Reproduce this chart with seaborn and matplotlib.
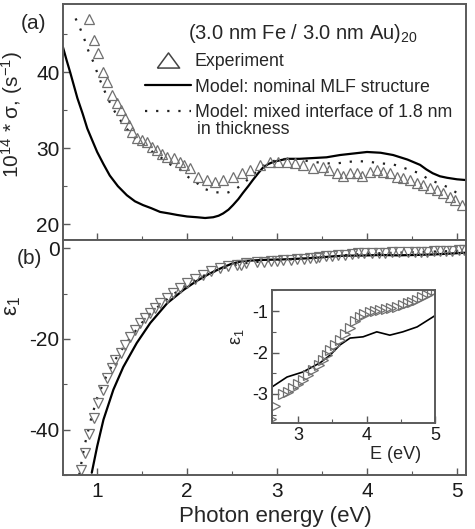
import matplotlib
matplotlib.use('Agg')
import matplotlib.pyplot as plt
import seaborn as sns
from matplotlib.lines import Line2D
from matplotlib.ticker import MultipleLocator

# panel (a): optical conductivity 10^14 * sigma (s^-1) vs photon energy (eV)
sig_exp_e = [0.91, 0.96, 1.01, 1.06, 1.11, 1.17, 1.22, 1.26, 1.31, 1.35, 1.39, 1.44, 1.50, 1.55,
             1.61, 1.67, 1.72, 1.78, 1.85, 1.92, 1.97, 2.03, 2.12, 2.22, 2.31, 2.40, 2.51, 2.61,
             2.70, 2.81, 2.92, 3.01, 3.11, 3.20, 3.29, 3.40, 3.51, 3.58, 3.67, 3.73, 3.81, 3.89,
             3.94, 4.03, 4.11, 4.18, 4.26, 4.33, 4.40, 4.48, 4.56, 4.62, 4.70, 4.78, 4.84, 4.92,
             4.98, 5.06]
sig_exp = [47.0, 44.3, 42.5, 40.0, 38.7, 37.0, 35.9, 35.0, 34.0, 33.0, 32.1, 31.4, 31.1, 30.8,
           30.1, 29.7, 29.3, 28.8, 28.7, 28.2, 27.8, 27.4, 26.2, 25.8, 25.5, 25.8, 26.2, 26.7,
           27.1, 27.8, 28.2, 28.2, 28.2, 28.0, 27.8, 27.4, 27.5, 27.1, 26.7, 26.4, 26.7, 26.7,
           26.4, 26.8, 27.1, 26.8, 26.7, 26.2, 26.1, 25.8, 25.4, 25.1, 24.7, 24.5, 24.1, 23.6,
           23.2, 22.5]

sig_nom_e = [0.62, 0.66, 0.70, 0.74, 0.78, 0.84, 0.89, 0.95, 1.00, 1.07, 1.14, 1.23, 1.33, 1.42,
             1.51, 1.60, 1.70, 1.80, 1.89, 2.00, 2.11, 2.20, 2.29, 2.35, 2.40, 2.46, 2.51, 2.57,
             2.62, 2.68, 2.73, 2.79, 2.84, 2.90, 2.96, 3.03, 3.11, 3.25, 3.40, 3.55, 3.70, 3.85,
             4.00, 4.15, 4.29, 4.45, 4.59, 4.66, 4.73, 4.81, 4.89, 5.00, 5.10]
sig_nom = [43.3, 41.6, 40.0, 38.3, 36.6, 34.5, 32.6, 30.9, 29.5, 27.9, 26.4, 25.0, 23.8, 23.0,
           22.5, 22.1, 21.6, 21.4, 21.2, 21.0, 20.9, 20.8, 20.9, 21.1, 21.4, 21.9, 22.5, 23.3,
           24.1, 25.0, 25.8, 26.7, 27.4, 27.9, 28.2, 28.4, 28.6, 28.6, 28.7, 28.8, 29.1, 29.3,
           29.5, 29.4, 29.1, 28.5, 27.8, 27.2, 26.7, 26.3, 26.1, 25.9, 25.8]

sig_mix_e = [0.76, 0.81, 0.86, 0.90, 0.96, 1.02, 1.08, 1.15, 1.22, 1.30, 1.38, 1.46, 1.55, 1.64,
             1.73, 1.82, 1.92, 2.00, 2.11, 2.20, 2.31, 2.44, 2.53, 2.64, 2.76, 2.85, 2.98, 3.10,
             3.22, 3.35, 3.47, 3.57, 3.67, 3.79, 3.90, 4.03, 4.14, 4.28, 4.39, 4.50, 4.59, 4.68,
             4.79, 4.89, 5.00]
sig_mix = [47.1, 45.8, 44.3, 42.9, 41.3, 39.3, 37.6, 35.8, 34.3, 33.0, 31.8, 30.9, 30.1, 29.3,
           28.6, 27.8, 27.2, 26.3, 25.4, 24.6, 24.2, 24.1, 24.5, 25.5, 26.8, 27.7, 28.4, 28.6,
           28.5, 28.3, 28.1, 28.0, 28.0, 28.2, 28.3, 28.2, 28.0, 27.9, 27.5, 27.0, 26.7, 25.9,
           25.4, 24.9, 24.1]

# panel (b): real part of dielectric function eps1
eps_exp_e = [0.82, 0.86, 0.91, 0.96, 1.01, 1.07, 1.11, 1.17, 1.20, 1.26, 1.31, 1.37, 1.42, 1.48,
             1.53, 1.59, 1.64, 1.70, 1.78, 1.84, 1.92, 2.00, 2.09, 2.18, 2.27, 2.37, 2.46, 2.55,
             2.60, 2.66, 2.78, 2.85, 2.93, 3.00, 3.07, 3.15, 3.22, 3.30, 3.37, 3.43, 3.47, 3.54,
             3.61, 3.68, 3.76, 3.83, 3.90, 3.97, 4.05, 4.13, 4.20, 4.28, 4.36, 4.45, 4.53, 4.60,
             4.67, 4.74, 4.81, 4.88, 4.95, 5.02, 5.08]
eps_exp = [-48.8, -45.1, -40.9, -37.4, -34.1, -31.2, -28.6, -26.4, -24.6, -23.1, -21.3, -19.5,
           -18.0, -16.5, -15.4, -14.3, -13.2, -12.1, -11.0, -9.9, -8.8, -7.7, -6.7, -5.9, -5.1,
           -4.4, -3.9, -3.6, -3.6, -3.3, -3.0, -2.95, -2.85, -2.75, -2.66, -2.54, -2.42, -2.30,
           -2.18, -2.06, -1.94, -1.82, -1.70, -1.56, -1.40, -1.25, -1.15, -1.08, -1.03, -1.00,
           -0.98, -0.95, -0.92, -0.90, -0.85, -0.80, -0.77, -0.72, -0.66, -0.60, -0.55, -0.50,
           -0.45]

eps_nom_e = [0.94, 1.00, 1.07, 1.18, 1.29, 1.44, 1.59, 1.78, 1.96, 2.10, 2.25, 2.40, 2.50, 2.62,
             2.84, 3.07, 3.32, 3.47, 3.61, 3.76, 3.95, 4.15, 4.34, 4.53, 4.74, 4.97, 5.10]
eps_nom = [-49.5, -43.7, -37.8, -31.2, -26.2, -20.9, -16.5, -12.1, -9.2, -7.3, -5.6, -4.2, -3.4,
           -2.83, -2.59, -2.47, -2.25, -2.06, -1.82, -1.65, -1.62, -1.50, -1.58, -1.50, -1.38,
           -1.14, -1.00]

eps_mix_e = [0.80, 0.86, 0.93, 1.00, 1.10, 1.20, 1.30, 1.40, 1.50, 1.60, 1.70, 1.80, 1.90, 2.00,
             2.20, 2.40, 2.60, 2.80, 3.00, 3.50, 4.00, 4.50, 5.00, 5.10]
eps_mix = [-50.0, -43.5, -37.8, -33.0, -28.3, -24.6, -21.6, -18.9, -16.4, -14.3, -12.5, -10.9,
           -9.4, -8.0, -5.9, -4.4, -3.4, -3.0, -2.7, -1.9, -1.2, -0.9, -0.6, -0.5]

sns.set_theme(style='ticks')
plt.rcParams['font.family'] = ['Liberation Sans', 'DejaVu Sans']
plt.rcParams['mathtext.default'] = 'regular'
plt.rcParams['axes.unicode_minus'] = False

fig = plt.figure(figsize=(4.75, 5.29), dpi=100)
ax1 = fig.add_axes([0.1326, 0.5463, 0.8484, 0.4461])
ax2 = fig.add_axes([0.1326, 0.1021, 0.8484, 0.4442])
ax3 = fig.add_axes([0.5726, 0.2004, 0.3432, 0.2514])

spine_c = '#5a5a5a'
mk_c = '#707070'
dot_ls = (0, (1, 4))

# (a)
sns.lineplot(x=sig_nom_e, y=sig_nom, ax=ax1, color='black', lw=1.6, estimator=None, sort=False)
sns.lineplot(x=sig_mix_e, y=sig_mix, ax=ax1, color='#222222', lw=1.6, ls=dot_ls,
             estimator=None, sort=False)
sns.lineplot(x=sig_exp_e, y=sig_exp, ax=ax1, marker='^', ls='', markersize=7,
             markerfacecolor='none', markeredgecolor=mk_c, markeredgewidth=0.9,
             estimator=None, sort=False)
ax1.set_xlim(0.62, 5.1)
ax1.set_ylim(17.9, 49)
ax1.set_yticks([20, 30, 40])
ax1.yaxis.set_minor_locator(MultipleLocator(5))
ax1.set_xticks([1, 2, 3, 4, 5])
ax1.xaxis.set_minor_locator(MultipleLocator(0.5))
ax1.set_xticklabels([])
ax1.set_ylabel('10$^{14}$ * σ, (s$^{-1}$)', fontsize=15)
ax1.yaxis.set_label_coords(-0.094, 0.53)

# wide, flat hollow triangle for the legend entry
flat_tri = [(-1, -0.68), (1, -0.68), (0, 0.68), (-1, -0.68)]
handles = [
    Line2D([], [], marker=flat_tri, ls='', markersize=16, markerfacecolor='none',
           markeredgecolor='#444444', markeredgewidth=1.1),
    Line2D([], [], color='black', lw=1.6),
    Line2D([], [], color='#222222', lw=1.6, ls=dot_ls),
]
labels = ['Experiment', 'Model: nominal MLF structure', 'Model: mixed interface of 1.8 nm']
ax1.legend(handles, labels, loc='upper left', bbox_to_anchor=(0.2035, 0.792), frameon=False,
           fontsize=12.8, handlelength=2.6, handletextpad=0.2, labelspacing=0.48, borderpad=0,
           borderaxespad=0)
ax1.text(0.333, 0.47, 'in thickness', transform=ax1.transAxes, fontsize=12.8,
         ha='left', va='center')
ax1.text(0.31, 0.875, '(3.0 nm Fe / 3.0 nm Au)$_{20}$', transform=ax1.transAxes,
         fontsize=14.5, ha='left', va='center')

# (b)
sns.lineplot(x=eps_nom_e, y=eps_nom, ax=ax2, color='black', lw=1.6, estimator=None, sort=False)
sns.lineplot(x=eps_mix_e, y=eps_mix, ax=ax2, color='#222222', lw=1.6, ls=dot_ls,
             estimator=None, sort=False)
sns.lineplot(x=eps_exp_e, y=eps_exp, ax=ax2, marker='v', ls='', markersize=7,
             markerfacecolor='none', markeredgecolor=mk_c, markeredgewidth=0.9,
             estimator=None, sort=False)
ax2.set_xlim(0.62, 5.1)
ax2.set_ylim(-50, 1.8)
ax2.set_yticks([0, -20, -40])
ax2.yaxis.set_minor_locator(MultipleLocator(10))
ax2.set_xticks([1, 2, 3, 4, 5])
ax2.xaxis.set_minor_locator(MultipleLocator(0.5))
ax2.set_xlabel('Photon energy (eV)', fontsize=16)
ax2.xaxis.set_label_coords(0.526, -0.13)
ax2.set_ylabel('ε$_1$', fontsize=16)
ax2.yaxis.set_label_coords(-0.10, 0.72)

# inset
sns.lineplot(x=eps_nom_e, y=eps_nom, ax=ax3, color='black', lw=1.2, estimator=None, sort=False)
sns.lineplot(x=eps_exp_e, y=eps_exp, ax=ax3, marker='>', ls='', markersize=7,
             markerfacecolor='none', markeredgecolor=mk_c, markeredgewidth=0.9,
             estimator=None, sort=False)
ax3.set_xlim(2.62, 5.0)
ax3.set_ylim(-3.7, -0.49)
ax3.set_xticks([3, 4, 5])
ax3.set_yticks([-1, -2, -3])
ax3.xaxis.set_minor_locator(MultipleLocator(0.5))
ax3.yaxis.set_minor_locator(MultipleLocator(0.5))
ax3.set_xlabel('E (eV)', fontsize=13)
ax3.xaxis.set_label_coords(0.76, -0.17)
ax3.set_ylabel('ε$_1$', fontsize=13)
ax3.yaxis.set_label_coords(-0.16, 0.65)

for ax, fs, pad_x in ((ax1, 15, 5), (ax2, 15, 5), (ax3, 13, 3)):
    ax.tick_params(which='both', direction='in', top=False, right=False,
                   color=spine_c, labelsize=fs, labelcolor='#1a1a1a')
    ax.tick_params(axis='x', which='major', pad=pad_x)
    ax.tick_params(axis='y', which='major', pad=2.5)
    ax.tick_params(which='major', length=5, width=1.0)
    ax.tick_params(which='minor', length=3, width=0.8)
    for s in ax.spines.values():
        s.set_visible(True)
        s.set_color(spine_c)
        s.set_linewidth(1.4)
    ax.set_facecolor('white')

fig.text(0.07, 0.955, '(a)', fontsize=15, ha='center', va='center')
fig.text(0.061, 0.512, '(b)', fontsize=15, ha='center', va='center')

fig.savefig('out.png', dpi=100)
